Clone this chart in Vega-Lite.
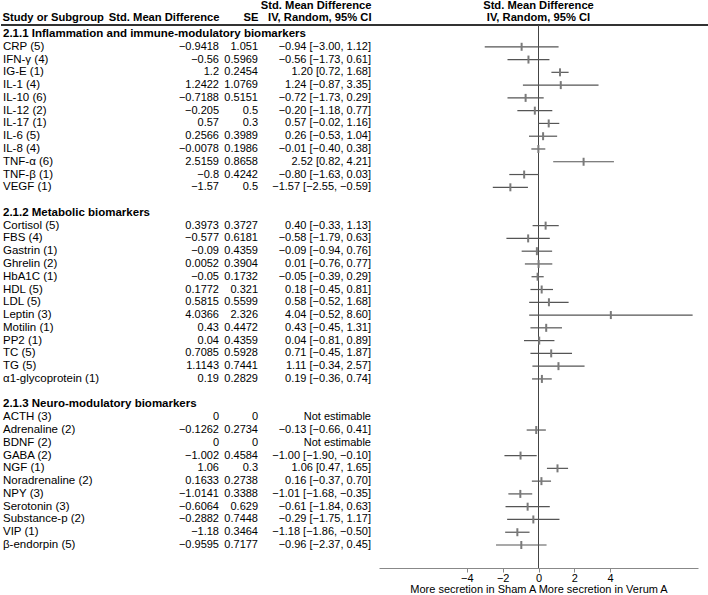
{
  "$schema": "https://vega.github.io/schema/vega-lite/v6.json",
  "padding": 0,
  "background": "white",
  "spacing": 0,
  "bounds": "flush",
  "config": {
    "view": {"stroke": null},
    "font": "Liberation Sans",
    "text": {"font": "Liberation Sans", "fontSize": 11.5, "color": "#000"},
    "title": {"font": "Liberation Sans", "fontSize": 11.2, "fontWeight": "bold", "color": "#000", "lineHeight": 12, "offset": 1},
    "concat": {"spacing": 0}
  },
  "datasets": {
    "rows": [
      {"row": 0, "kind": "header", "label": "2.1.1 Inflammation and immune-modulatory biomarkers"},
      {"row": 1, "kind": "study", "label": "CRP (5)", "smd": -0.9418, "se": 1.051, "ci": "−0.94 [−3.00, 1.12]", "lo": -3.00, "hi": 1.12},
      {"row": 2, "kind": "study", "label": "IFN-γ (4)", "smd": -0.56, "se": 0.5969, "ci": "−0.56 [−1.73, 0.61]", "lo": -1.73, "hi": 0.61},
      {"row": 3, "kind": "study", "label": "IG-E (1)", "smd": 1.2, "se": 0.2454, "ci": "1.20 [0.72, 1.68]", "lo": 0.72, "hi": 1.68},
      {"row": 4, "kind": "study", "label": "IL-1 (4)", "smd": 1.2422, "se": 1.0769, "ci": "1.24 [−0.87, 3.35]", "lo": -0.87, "hi": 3.35},
      {"row": 5, "kind": "study", "label": "IL-10 (6)", "smd": -0.7188, "se": 0.5151, "ci": "−0.72 [−1.73, 0.29]", "lo": -1.73, "hi": 0.29},
      {"row": 6, "kind": "study", "label": "IL-12 (2)", "smd": -0.205, "se": 0.5, "ci": "−0.20 [−1.18, 0.77]", "lo": -1.18, "hi": 0.77},
      {"row": 7, "kind": "study", "label": "IL-17 (1)", "smd": 0.57, "se": 0.3, "ci": "0.57 [−0.02, 1.16]", "lo": -0.02, "hi": 1.16},
      {"row": 8, "kind": "study", "label": "IL-6 (5)", "smd": 0.2566, "se": 0.3989, "ci": "0.26 [−0.53, 1.04]", "lo": -0.53, "hi": 1.04},
      {"row": 9, "kind": "study", "label": "IL-8 (4)", "smd": -0.0078, "se": 0.1986, "ci": "−0.01 [−0.40, 0.38]", "lo": -0.40, "hi": 0.38},
      {"row": 10, "kind": "study", "label": "TNF-α (6)", "smd": 2.5159, "se": 0.8658, "ci": "2.52 [0.82, 4.21]", "lo": 0.82, "hi": 4.21},
      {"row": 11, "kind": "study", "label": "TNF-β (1)", "smd": -0.8, "se": 0.4242, "ci": "−0.80 [−1.63, 0.03]", "lo": -1.63, "hi": 0.03},
      {"row": 12, "kind": "study", "label": "VEGF (1)", "smd": -1.57, "se": 0.5, "ci": "−1.57 [−2.55, −0.59]", "lo": -2.55, "hi": -0.59},
      {"row": 14, "kind": "header", "label": "2.1.2 Metabolic biomarkers"},
      {"row": 15, "kind": "study", "label": "Cortisol (5)", "smd": 0.3973, "se": 0.3727, "ci": "0.40 [−0.33, 1.13]", "lo": -0.33, "hi": 1.13},
      {"row": 16, "kind": "study", "label": "FBS (4)", "smd": -0.577, "se": 0.6181, "ci": "−0.58 [−1.79, 0.63]", "lo": -1.79, "hi": 0.63},
      {"row": 17, "kind": "study", "label": "Gastrin (1)", "smd": -0.09, "se": 0.4359, "ci": "−0.09 [−0.94, 0.76]", "lo": -0.94, "hi": 0.76},
      {"row": 18, "kind": "study", "label": "Ghrelin (2)", "smd": 0.0052, "se": 0.3904, "ci": "0.01 [−0.76, 0.77]", "lo": -0.76, "hi": 0.77},
      {"row": 19, "kind": "study", "label": "HbA1C (1)", "smd": -0.05, "se": 0.1732, "ci": "−0.05 [−0.39, 0.29]", "lo": -0.39, "hi": 0.29},
      {"row": 20, "kind": "study", "label": "HDL (5)", "smd": 0.1772, "se": 0.321, "ci": "0.18 [−0.45, 0.81]", "lo": -0.45, "hi": 0.81},
      {"row": 21, "kind": "study", "label": "LDL (5)", "smd": 0.5815, "se": 0.5599, "ci": "0.58 [−0.52, 1.68]", "lo": -0.52, "hi": 1.68},
      {"row": 22, "kind": "study", "label": "Leptin (3)", "smd": 4.0366, "se": 2.326, "ci": "4.04 [−0.52, 8.60]", "lo": -0.52, "hi": 8.60},
      {"row": 23, "kind": "study", "label": "Motilin (1)", "smd": 0.43, "se": 0.4472, "ci": "0.43 [−0.45, 1.31]", "lo": -0.45, "hi": 1.31},
      {"row": 24, "kind": "study", "label": "PP2 (1)", "smd": 0.04, "se": 0.4359, "ci": "0.04 [−0.81, 0.89]", "lo": -0.81, "hi": 0.89},
      {"row": 25, "kind": "study", "label": "TC (5)", "smd": 0.7085, "se": 0.5928, "ci": "0.71 [−0.45, 1.87]", "lo": -0.45, "hi": 1.87},
      {"row": 26, "kind": "study", "label": "TG (5)", "smd": 1.1143, "se": 0.7441, "ci": "1.11 [−0.34, 2.57]", "lo": -0.34, "hi": 2.57},
      {"row": 27, "kind": "study", "label": "α1-glycoprotein (1)", "smd": 0.19, "se": 0.2829, "ci": "0.19 [−0.36, 0.74]", "lo": -0.36, "hi": 0.74},
      {"row": 29, "kind": "header", "label": "2.1.3 Neuro-modulatory biomarkers"},
      {"row": 30, "kind": "study", "label": "ACTH (3)", "smd": 0, "se": 0, "ci": "Not estimable"},
      {"row": 31, "kind": "study", "label": "Adrenaline (2)", "smd": -0.1262, "se": 0.2734, "ci": "−0.13 [−0.66, 0.41]", "lo": -0.66, "hi": 0.41},
      {"row": 32, "kind": "study", "label": "BDNF (2)", "smd": 0, "se": 0, "ci": "Not estimable"},
      {"row": 33, "kind": "study", "label": "GABA (2)", "smd": -1.002, "se": 0.4584, "ci": "−1.00 [−1.90, −0.10]", "lo": -1.90, "hi": -0.10},
      {"row": 34, "kind": "study", "label": "NGF (1)", "smd": 1.06, "se": 0.3, "ci": "1.06 [0.47, 1.65]", "lo": 0.47, "hi": 1.65},
      {"row": 35, "kind": "study", "label": "Noradrenaline (2)", "smd": 0.1633, "se": 0.2738, "ci": "0.16 [−0.37, 0.70]", "lo": -0.37, "hi": 0.70},
      {"row": 36, "kind": "study", "label": "NPY (3)", "smd": -1.0141, "se": 0.3388, "ci": "−1.01 [−1.68, −0.35]", "lo": -1.68, "hi": -0.35},
      {"row": 37, "kind": "study", "label": "Serotonin (3)", "smd": -0.6064, "se": 0.629, "ci": "−0.61 [−1.84, 0.63]", "lo": -1.84, "hi": 0.63},
      {"row": 38, "kind": "study", "label": "Substance-p (2)", "smd": -0.2882, "se": 0.7448, "ci": "−0.29 [−1.75, 1.17]", "lo": -1.75, "hi": 1.17},
      {"row": 39, "kind": "study", "label": "VIP (1)", "smd": -1.18, "se": 0.3464, "ci": "−1.18 [−1.86, −0.50]", "lo": -1.86, "hi": -0.50},
      {"row": 40, "kind": "study", "label": "β-endorpin (5)", "smd": -0.9595, "se": 0.7177, "ci": "−0.96 [−2.37, 0.45]", "lo": -2.37, "hi": 0.45}
    ]
  },
  "hconcat": [
    {
      "width": 160, "height": 543,
      "title": {"text": "Study or Subgroup", "anchor": "start", "dx": 2},
      "data": {"name": "rows"},
      "encoding": {
        "y": {"field": "row", "type": "quantitative", "axis": null, "scale": {"domain": [-0.705, 41.8], "reverse": true, "nice": false, "zero": false}}
      },
      "layer": [
        {"mark": {"type": "rule", "color": "#333", "strokeWidth": 1}, "encoding": {"y": {"value": 0}}},
        {"transform": [{"filter": "datum.kind === 'header'"}], "mark": {"type": "text", "align": "left", "fontWeight": "bold", "dx": 2}, "encoding": {"x": {"value": 0}, "text": {"field": "label"}}},
        {"transform": [{"filter": "datum.kind === 'study'"}], "mark": {"type": "text", "align": "left", "dx": 2}, "encoding": {"x": {"value": 0}, "text": {"field": "label"}}}
      ]
    },
    {
      "width": 58, "height": 543,
      "title": {"text": "Std. Mean Difference", "anchor": "end"},
      "data": {"name": "rows"},
      "encoding": {
        "y": {"field": "row", "type": "quantitative", "axis": null, "scale": {"domain": [-0.705, 41.8], "reverse": true, "nice": false, "zero": false}}
      },
      "layer": [
        {"mark": {"type": "rule", "color": "#333", "strokeWidth": 1}, "encoding": {"y": {"value": 0}}},
        {"transform": [{"filter": "datum.kind === 'study'"}], "mark": {"type": "text", "align": "right", "fontSize": 11}, "encoding": {"x": {"value": "width"}, "text": {"field": "smd", "type": "quantitative", "format": "~g"}}}
      ]
    },
    {
      "width": 39, "height": 543,
      "title": {"text": "SE", "anchor": "end"},
      "data": {"name": "rows"},
      "encoding": {
        "y": {"field": "row", "type": "quantitative", "axis": null, "scale": {"domain": [-0.705, 41.8], "reverse": true, "nice": false, "zero": false}}
      },
      "layer": [
        {"mark": {"type": "rule", "color": "#333", "strokeWidth": 1}, "encoding": {"y": {"value": 0}}},
        {"transform": [{"filter": "datum.kind === 'study'"}], "mark": {"type": "text", "align": "right", "fontSize": 11}, "encoding": {"x": {"value": "width"}, "text": {"field": "se", "type": "quantitative", "format": "~g"}}}
      ]
    },
    {
      "width": 121, "height": 543,
      "title": {"text": ["Std. Mean Difference", "IV, Random, 95% CI"], "anchor": "end", "dx": -8},
      "data": {"name": "rows"},
      "encoding": {
        "y": {"field": "row", "type": "quantitative", "axis": null, "scale": {"domain": [-0.705, 41.8], "reverse": true, "nice": false, "zero": false}}
      },
      "layer": [
        {"mark": {"type": "rule", "color": "#333", "strokeWidth": 1}, "encoding": {"y": {"value": 0}}},
        {"transform": [{"filter": "datum.kind === 'study'"}], "mark": {"type": "text", "align": "right", "fontSize": 11, "dx": -8}, "encoding": {"x": {"value": "width"}, "text": {"field": "ci"}}}
      ]
    },
    {
      "width": 319, "height": 543,
      "title": {"text": ["Std. Mean Difference", "IV, Random, 95% CI"], "anchor": "middle"},
      "data": {"name": "rows"},
      "encoding": {
        "y": {"field": "row", "type": "quantitative", "axis": null, "scale": {"domain": [-0.705, 41.8], "reverse": true, "nice": false, "zero": false}}
      },
      "layer": [
        {"mark": {"type": "rule", "color": "#333", "strokeWidth": 1}, "encoding": {"y": {"value": 0}}},
        {
          "mark": {"type": "rule", "color": "#444", "strokeWidth": 1},
          "encoding": {
            "y": null,
            "x": {"datum": 0, "type": "quantitative", "scale": {"domain": [-8.9, 8.9], "nice": false, "zero": false},
              "axis": {"values": [-4, -2, 0, 2, 4], "grid": false, "domainColor": "#888", "tickColor": "#888", "tickSize": 4, "labelFont": "Liberation Sans", "labelFontSize": 11, "labelColor": "#000", "labelPadding": 0, "labelFlush": false,
                "title": "More secretion in Sham A   More secretion in Verum A", "titleFont": "Liberation Sans", "titleFontSize": 11, "titleFontWeight": "normal", "titleColor": "#000", "titlePadding": 0}}
          }
        },
        {
          "transform": [{"filter": "isValid(datum.lo)"}],
          "mark": {"type": "rule", "color": "#555", "strokeWidth": 1.2},
          "encoding": {
            "x": {"field": "lo", "type": "quantitative"},
            "x2": {"field": "hi"}
          }
        },
        {
          "transform": [{"filter": "isValid(datum.lo)"}],
          "mark": {"type": "tick", "orient": "vertical", "size": 8, "thickness": 2, "color": "#7a7a7a", "opacity": 1},
          "encoding": {
            "x": {"field": "smd", "type": "quantitative"}
          }
        }
      ]
    },
    {
      "width": 11, "height": 543,
      "data": {"name": "rows"},
      "mark": {"type": "rule", "color": "#333", "strokeWidth": 1},
      "encoding": {"y": {"value": 0}}
    }
  ]
}
